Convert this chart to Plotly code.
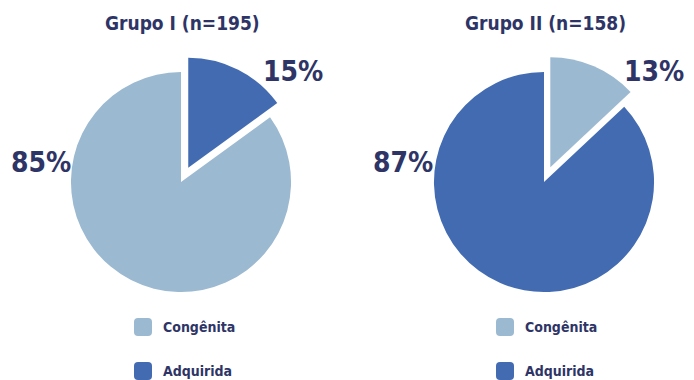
import plotly.graph_objects as go

# Distribution of heart disease type per group
categories = ["Congênita", "Adquirida"]
group_titles = ["Grupo I (n=195)", "Grupo II (n=158)"]
grupo1_values = [85, 15]   # Congênita, Adquirida
grupo2_values = [13, 87]

W, H = 694, 380
LIGHT = "#9BB9D1"
DARK = "#426BB1"
TEXT = "#2E3566"
FONT = "Liberation Sans Narrow, DejaVu Sans Condensed, Arial Narrow, sans-serif"
colors = {"Congênita": LIGHT, "Adquirida": DARK}


def px_x(x):
    return x / W


def px_y(y):
    return 1 - y / H


def pie_domain(cx, cy, size):
    return dict(x=[px_x(cx - size / 2), px_x(cx + size / 2)],
                y=[px_y(cy + size / 2), px_y(cy - size / 2)])


def label(text, x, y, size, anchor="center"):
    return dict(text=f"<b>{text}</b>", x=px_x(x), y=px_y(y),
                xref="paper", yref="paper", xanchor=anchor, yanchor="middle",
                showarrow=False, font=dict(family=FONT, size=size, color=TEXT))


# Each group: slice order (first slice pulled out, starting at 12 o'clock, clockwise)
groups = [
    dict(title=group_titles[0], labels=["Adquirida", "Congênita"],
         values=[grupo1_values[1], grupo1_values[0]], cx=181, cy=182,
         label_pos=[(293, 71), (41, 162)]),
    dict(title=group_titles[1], labels=["Congênita", "Adquirida"],
         values=[grupo2_values[0], grupo2_values[1]], cx=544, cy=182,
         label_pos=[(654, 71), (403, 162)]),
]

PULL = 0.145
BOX = 252

fig = go.Figure()
annotations = []
for g in groups:
    fig.add_trace(go.Pie(
        labels=g["labels"], values=g["values"],
        marker=dict(colors=[colors[l] for l in g["labels"]], line=dict(width=0)),
        pull=[PULL, 0], sort=False, direction="clockwise", rotation=0,
        textinfo="none", hoverinfo="label+percent", showlegend=False,
        domain=pie_domain(g["cx"], g["cy"], BOX),
    ))
    annotations.append(label(g["title"], g["cx"] + 1, 23, 19))
    for val, (lx, ly) in zip(g["values"], g["label_pos"]):
        annotations.append(label(f"{val}%", lx, ly, 28))

# Legend below each pie
shapes = []
legend_x = [143, 505]
legend_y = [327, 371]
r, s = 4, 9
rounded = (f"M {-s + r},{-s} L {s - r},{-s} Q {s},{-s} {s},{-s + r} "
           f"L {s},{s - r} Q {s},{s} {s - r},{s} L {-s + r},{s} "
           f"Q {-s},{s} {-s},{s - r} L {-s},{-s + r} Q {-s},{-s} {-s + r},{-s} Z")
for lx in legend_x:
    for cat, ly in zip(categories, legend_y):
        shapes.append(dict(
            type="path", path=rounded, xref="paper", yref="paper",
            xsizemode="pixel", ysizemode="pixel",
            xanchor=px_x(lx), yanchor=px_y(ly),
            fillcolor=colors[cat], line=dict(width=0)))
        annotations.append(label(cat, lx + 18, ly, 14, anchor="left"))

fig.update_layout(
    width=W, height=H, margin=dict(l=0, r=0, t=0, b=0),
    paper_bgcolor="white", plot_bgcolor="white",
    annotations=annotations, shapes=shapes, showlegend=False,
)

fig.write_html("out.html")
